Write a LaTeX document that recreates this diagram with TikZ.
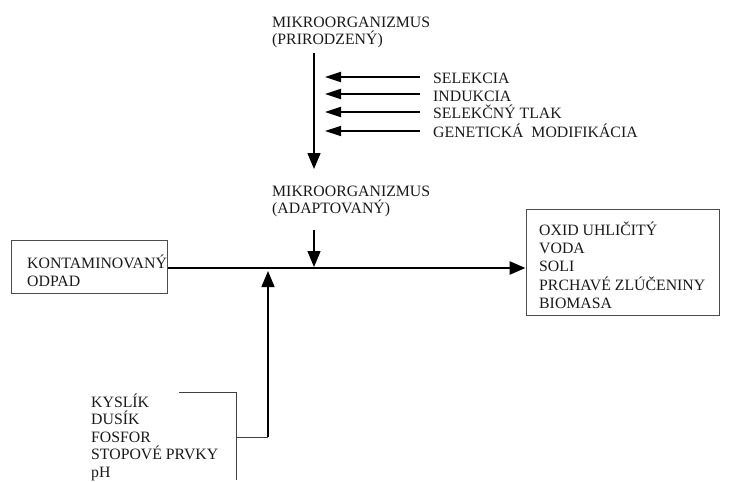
\documentclass[tikz,border=0pt]{standalone}
\usepackage{fontspec}
\setmainfont{Liberation Serif}
\usetikzlibrary{arrows.meta}
\begin{document}
\begin{tikzpicture}[x=1pt,y=-1pt,
  lbl/.style={anchor=base west, inner sep=0pt, font=\fontsize{15.8}{18}\selectfont, text=black!90},
  frame/.style={draw=black!70, line width=1pt, inner sep=0pt},
  flow/.style={line width=2.6pt, -{Triangle[length=16pt,width=13pt]}},
  feed/.style={line width=1.5pt, -{Triangle[length=16pt,width=13pt]}},
  side/.style={line width=2pt, -{Triangle[length=16pt,width=10pt]}},
  sidethin/.style={line width=1.2pt, -{Triangle[length=16pt,width=10pt]}},
  thinline/.style={draw=black!75, line width=1pt}]
\useasboundingbox (0,0) rectangle (734,482);

% boxes
\node[frame, minimum width=156pt, minimum height=53pt] (waste) at (89,266.5) {};
\node[frame, minimum width=193pt, minimum height=106pt] (products) at (622.5,262) {};

% texts
\node[lbl] (mo1a) at (272,27) {MIKROORGANIZMUS};
\node[lbl] (mo1b) at (272,44) {(PRIRODZENÝ)};
\node[lbl] (sel) at (433,83) {SELEKCIA};
\node[lbl] (ind) at (433,101) {INDUKCIA};
\node[lbl] (tlak) at (433,118.5) {SELEKČNÝ TLAK};
\node[lbl] (gen) at (433,137) {GENETICKÁ\ \ MODIFIKÁCIA};
\node[lbl] (mo2a) at (272,196) {MIKROORGANIZMUS};
\node[lbl] (mo2b) at (272,213) {(ADAPTOVANÝ)};
\node[lbl] (w1) at (27,268) {KONTAMINOVANÝ};
\node[lbl] (w2) at (27,286) {ODPAD};
\node[lbl] (p1) at (539,235) {OXID UHLIČITÝ};
\node[lbl] (p2) at (539,253.3) {VODA};
\node[lbl] (p3) at (539,271.6) {SOLI};
\node[lbl] (p4) at (539,290) {PRCHAVÉ ZLÚČENINY};
\node[lbl] (p5) at (539,308) {BIOMASA};
\node[lbl] (n1) at (91,407) {KYSLÍK};
\node[lbl] (n2) at (91,424.5) {DUSÍK};
\node[lbl] (n3) at (91,442) {FOSFOR};
\node[lbl] (n4) at (91,459.5) {STOPOVÉ PRVKY};
\node[lbl] (n5) at (91,477) {pH};

% junctions on the main flow line
\coordinate (j) at (268,268);
\coordinate (m) at (314,268);

% main flow
\draw[flow] (waste.east |- j) -- (products.west |- j);

% adaptation of the microorganism
\coordinate (t0) at (314,53);
\coordinate (t1) at (314,169);
\draw[feed] (t0) -- (t1);

\coordinate (s1) at (420,77);
\coordinate (s2) at (420,94);
\coordinate (s3) at (420,112);
\coordinate (s4) at (420,131);
\draw[side] (s1) -- ++(-95,0);
\draw[side] (s2) -- ++(-95,0);
\draw[side] (s3) -- ++(-95,0);
\draw[sidethin] (s4) -- ++(-95,0);

% adapted microorganism enters the flow
\coordinate (a0) at (314,230);
\draw[feed] (a0) -- ([yshift=1pt]m);

% nutrients bracket and feed
\coordinate (b0) at (179,392);
\coordinate (b1) at (236,392);
\coordinate (b2) at (236,480);
\coordinate (c1) at (236,437);
\coordinate (c2) at (268,437);
\draw[thinline] (b0) -- (b1) -- (b2);
\draw[thinline] (c1) -- (c2);
\draw[feed] (c2) -- ([yshift=-3pt]j);
\end{tikzpicture}
\end{document}
